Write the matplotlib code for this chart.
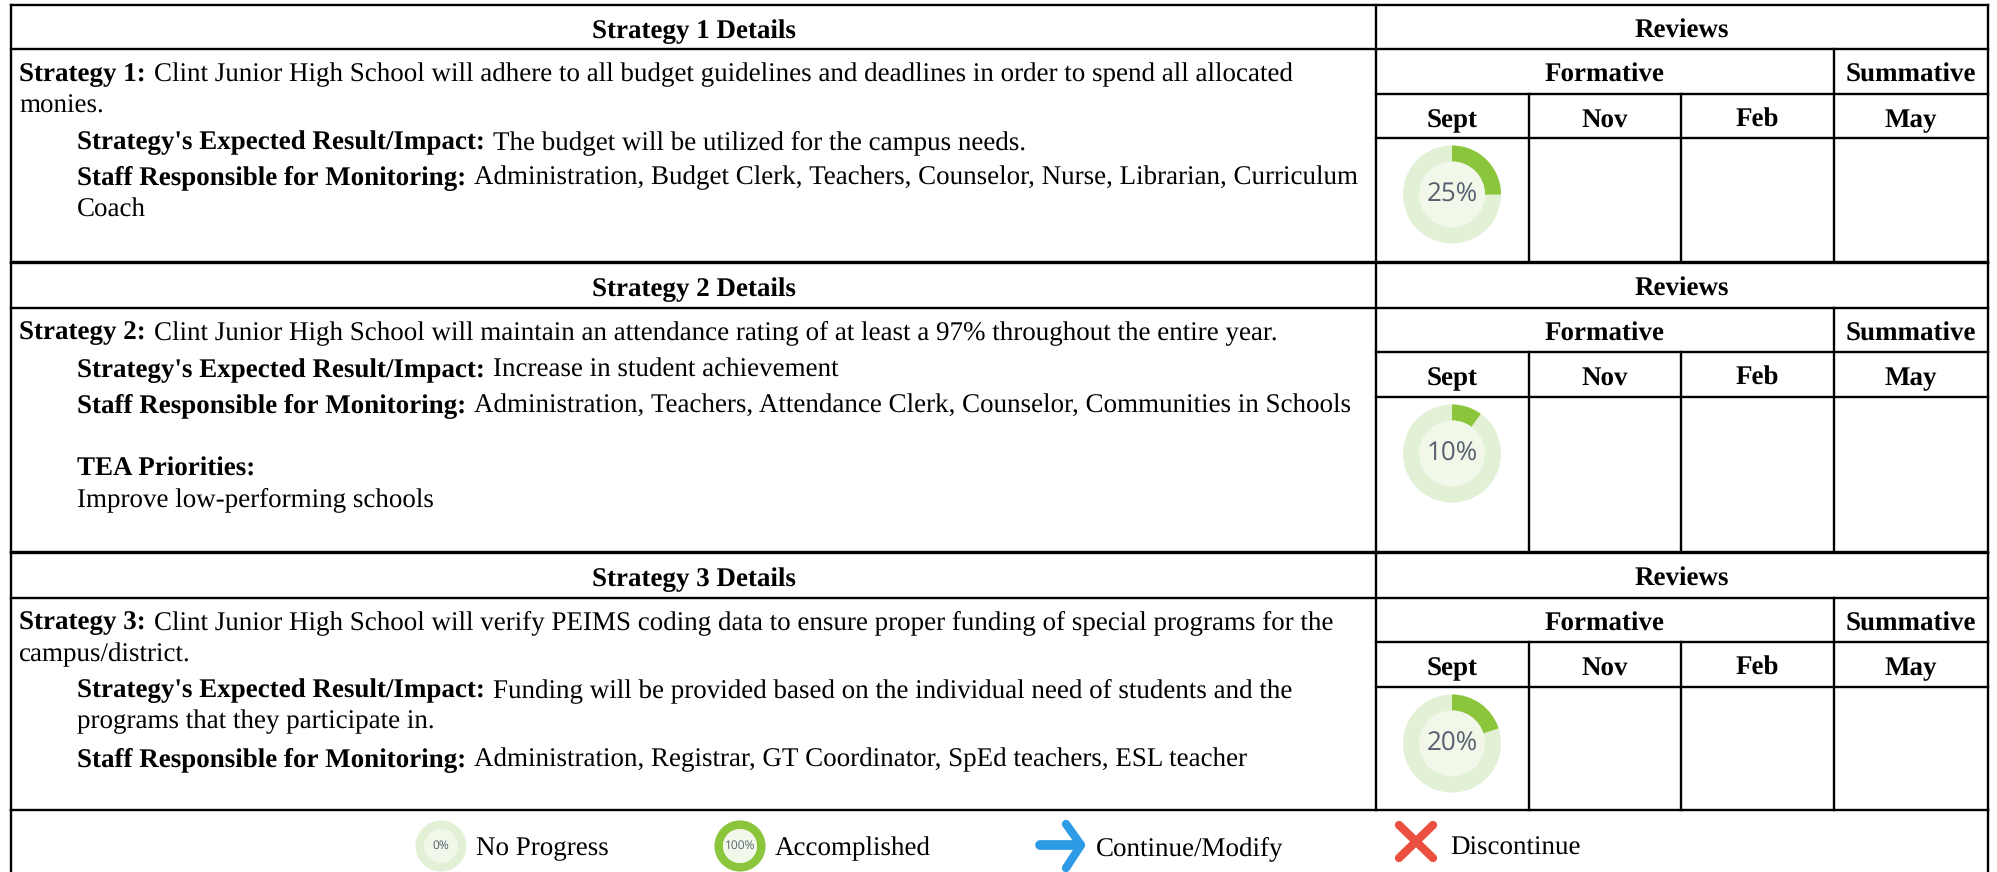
import numpy as np
import matplotlib
matplotlib.use('Agg')
import matplotlib.pyplot as plt
from matplotlib.patches import Wedge, Circle

plt.rcParams['text.hinting'] = 'no_hinting'
plt.rcParams['text.hinting_factor'] = 1

SERIF = 'Liberation Serif'
FS = 19.55

# table text
strategies = ['Strategy 1 Details', 'Strategy 2 Details', 'Strategy 3 Details']
months = ['Sept', 'Nov', 'Feb', 'May']
progress = [25, 10, 20]
legend_labels = ['No Progress', 'Accomplished', 'Continue/Modify', 'Discontinue']

body1 = [
    ('Strategy 1:', 'Clint Junior High School will adhere to all budget guidelines and deadlines in order to spend all allocated', 19, 81),
    ('', 'monies.', 19, 113),
    ("Strategy's Expected Result/Impact:", 'The budget will be utilized for the campus needs.', 77, 149),
    ('Staff Responsible for Monitoring:', 'Administration, Budget Clerk, Teachers, Counselor, Nurse, Librarian, Curriculum', 77, 184),
    ('', 'Coach', 77, 217),
]
body2 = [
    ('Strategy 2:', 'Clint Junior High School will maintain an attendance rating of at least a 97% throughout the entire year.', 19, 339),
    ("Strategy's Expected Result/Impact:", 'Increase in student achievement', 77, 377),
    ('Staff Responsible for Monitoring:', 'Administration, Teachers, Attendance Clerk, Counselor, Communities in Schools', 77, 412),
    ('TEA Priorities:', '', 77, 476),
    ('', 'Improve low-performing schools', 77, 506),
]
body3 = [
    ('Strategy 3:', 'Clint Junior High School will verify PEIMS coding data to ensure proper funding of special programs for the', 19, 629),
    ('', 'campus/district.', 19, 661),
    ("Strategy's Expected Result/Impact:", 'Funding will be provided based on the individual need of students and the', 77, 697),
    ('', 'programs that they participate in.', 77, 728),
    ('Staff Responsible for Monitoring:', 'Administration, Registrar, GT Coordinator, SpEd teachers, ESL teacher', 77, 766),
]

# y of the horizontal rules per block: top, reviews, formative, months, bottom
blocks = [(5, 49, 94, 138, 262), (263, 308, 352, 397, 552), (553, 598, 642, 687, 810)]
XL, XM, XR = 11, 1376, 1988
XC = [1376, 1529, 1681, 1834, 1988]

fig = plt.figure(figsize=(19.97, 8.72), dpi=100, facecolor='white')
ax = fig.add_axes([0, 0, 1, 1])
ax.set_xlim(0, 1997)
ax.set_ylim(872, 0)
ax.axis('off')


def rule(x0, y0, x1, y1, lw=1.7):
    ax.plot([x0, x1], [y0, y1], color='black', lw=lw, solid_capstyle='projecting', zorder=3)


def ctext(x, y, s):
    ax.text(x, y, s, family=SERIF, fontsize=FS, fontweight='bold', ha='center', va='baseline')


def rich(bold, rest, x, y):
    r = fig.canvas.get_renderer()
    if bold:
        t = ax.text(x, y, bold, family=SERIF, fontsize=FS, fontweight='bold', va='baseline')
        x = t.get_window_extent(r).x1 + 8
    if rest:
        ax.text(x, y, rest, family=SERIF, fontsize=FS, va='baseline')


def donut(cx, cy, pct, label, r=49, inner=33, fs=19):
    ax.add_patch(Circle((cx, cy), r, fc='#E2F0D6', ec='none', zorder=2))
    # y axis is flipped so angles run clockwise from +x
    if pct > 0:
        ax.add_patch(Wedge((cx, cy), r, -90, -90 + 3.6 * pct, width=r - inner, fc='#8AC53C', ec='none', zorder=2))
    ax.add_patch(Circle((cx, cy), inner, fc='#F1F8EA', ec='none', zorder=2))
    ax.text(cx, cy, label, fontsize=fs, family='Open Sans', color='#56606E', ha='center', va='center', zorder=4)


# table rules
for (t, a, b, c, bt), pct, title, body in zip(blocks, progress, strategies, [body1, body2, body3]):
    rule(XL, t, XR, t)
    rule(XL, a, XR, a)
    rule(XM, b, XR, b)
    rule(XM, c, XR, c)
    rule(XL, bt, XR, bt)
    rule(XL, t, XL, bt)
    rule(XM, t, XM, bt)
    rule(XR, t, XR, bt)
    rule(XC[3], a, XC[3], bt)
    for xc in XC[1:3]:
        rule(xc, b, xc, bt)
    ctext((XL + XM) / 2, t + 33, title)
    ctext((XM + XR) / 2, t + 33, 'Reviews')
    ctext((XM + XC[3]) / 2, a + 33, 'Formative')
    ctext((XC[3] + XR) / 2, a + 33, 'Summative')
    for i, m in enumerate(months):
        ctext((XC[i] + XC[i + 1]) / 2, b + 33, m)
    for bold, rest, x, y in body:
        rich(bold, rest, x, y)
    donut(1452, c + 56.5, pct, f'{pct}%')

# legend strip
rule(XL, 810, XL, 872)
rule(XR, 810, XR, 872)
donut(441, 846, 0, '0%', r=25.5, inner=17, fs=8.5)
donut(740, 846, 100, '100%', r=25.5, inner=17, fs=8.5)
ax.plot([1040, 1080], [845, 845], color='#2E9BE6', lw=7, solid_capstyle='round', zorder=3)
ax.plot([1066, 1081, 1066], [824, 845, 868], color='#2E9BE6', lw=6, solid_capstyle='round', solid_joinstyle='round', zorder=3)
ax.plot([1399, 1433], [825, 858], color='#EC5040', lw=6, solid_capstyle='round', zorder=3)
ax.plot([1433, 1399], [825, 858], color='#EC5040', lw=6, solid_capstyle='round', zorder=3)
for s, x in zip(legend_labels, [476, 775, 1096, 1450]):
    ax.text(x, 855, s, family=SERIF, fontsize=FS, va='baseline')

fig.savefig('out.png', dpi=100)
